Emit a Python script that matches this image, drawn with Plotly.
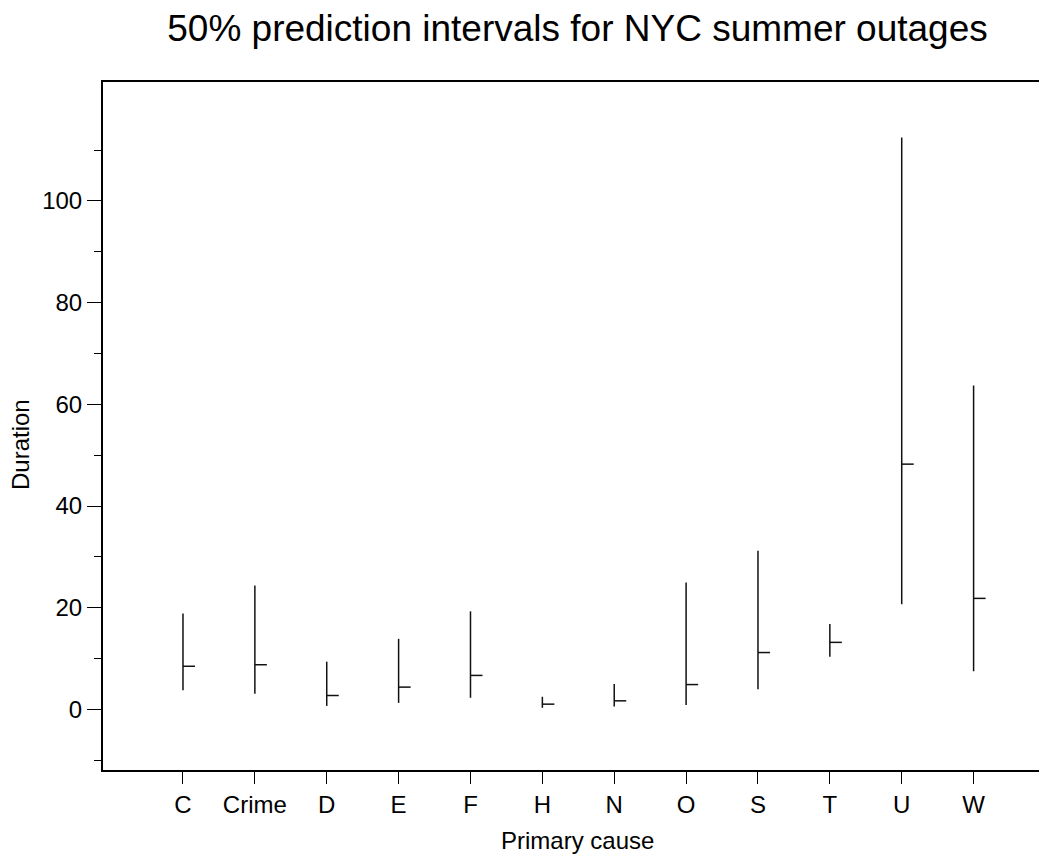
import plotly.graph_objects as go

categories = ["C", "Crime", "D", "E", "F", "H", "N", "O", "S", "T", "U", "W"]
low = [3.8, 3.1, 0.7, 1.3, 2.3, 0.33, 0.6, 0.9, 4.0, 10.35, 20.7, 7.5]
mid = [8.5, 8.8, 2.75, 4.4, 6.7, 1.05, 1.7, 4.9, 11.2, 13.2, 48.25, 21.85]
high = [18.9, 24.4, 9.4, 13.9, 19.3, 2.5, 5.0, 24.95, 31.2, 16.8, 112.5, 63.7]

major_y = [0, 20, 40, 60, 80, 100]
minor_y = [-10, 10, 30, 50, 70, 90, 110]

FONT = "Arial, Liberation Sans, sans-serif"
tick_w = 0.167  # horizontal tick length in category units

xs, ys = [], []
for i, (lo, md, hi) in enumerate(zip(low, mid, high), start=1):
    xs += [i, i, None, i, i + tick_w, None]
    ys += [lo, hi, None, md, md, None]

fig = go.Figure()
fig.add_trace(go.Scatter(x=xs, y=ys, mode="lines",
                         line=dict(color="#111111", width=1.5),
                         hoverinfo="skip", showlegend=False))

W, H = 1039, 855
L, T, B = 103, 82, 85
fig.update_layout(
    width=W, height=H,
    margin=dict(l=L, r=0, t=T, b=B),
    paper_bgcolor="white", plot_bgcolor="white",
    font=dict(family=FONT, color="black", size=24),
    title=dict(text="50% prediction intervals for NYC summer outages",
               x=577.5 / W, xanchor="center", xref="container",
               y=1 - 28 / H, yanchor="middle", yref="container",
               font=dict(size=37, family=FONT, color="black")),
    xaxis=dict(range=[-0.113, 12.91], tickmode="array",
               tickvals=list(range(1, len(categories) + 1)),
               ticktext=categories, ticks="outside", ticklen=12,
               tickwidth=1, tickcolor="black", ticklabelstandoff=0,
               showline=True, linecolor="black", linewidth=2, mirror=True,
               showgrid=False, zeroline=False,
               tickfont=dict(size=24, family=FONT)),
    yaxis=dict(range=[-11.9, 123.4], tickmode="array", tickvals=major_y,
               ticktext=[str(v) for v in major_y], ticks="outside", ticklen=14,
               tickwidth=1, tickcolor="black", ticklabelstandoff=0,
               minor=dict(tickmode="array", tickvals=minor_y, ticks="outside",
                          ticklen=7, tickwidth=1, tickcolor="black", showgrid=False),
               showline=True, linecolor="black", linewidth=2, mirror=False,
               showgrid=False, zeroline=False,
               tickfont=dict(size=24, family=FONT)),
    annotations=[
        dict(text="Duration", x=20 / W, y=1 - 445 / H, xref="paper", yref="paper",
             showarrow=False, textangle=-90, font=dict(size=24, family=FONT),
             xanchor="center", yanchor="middle"),
        dict(text="Primary cause", x=577.5 / W, y=1 - 840 / H, xref="paper", yref="paper",
             showarrow=False, font=dict(size=24, family=FONT),
             xanchor="center", yanchor="middle"),
    ],
)
# convert annotation positions from pixel fractions of the page to paper coordinates
pw = W - L
ph = H - T - B
for a in fig.layout.annotations:
    px = a.x * W
    py = (1 - a.y) * H
    a.x = (px - L) / pw
    a.y = 1 - (py - T) / ph

fig.write_html("out.html")
